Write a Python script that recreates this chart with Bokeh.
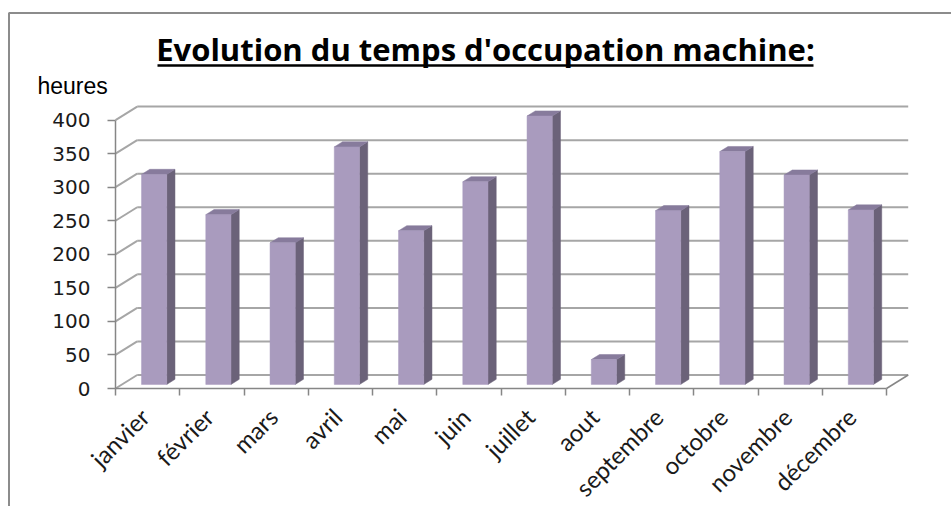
import math
from bokeh.plotting import figure
from bokeh.models import Range1d, FixedTicker, Label, LinearAxis
from bokeh.embed import file_html
from bokeh.resources import INLINE

# ---------------- data ----------------
months = ["janvier", "février", "mars", "avril", "mai", "juin", "juillet",
          "aout", "septembre", "octobre", "novembre", "décembre"]
hours = [313, 253, 211, 354, 229, 302, 400, 37, 259, 347, 312, 260]
y_ticks = [0, 50, 100, 150, 200, 250, 300, 350, 400]
title_text = "Evolution du temps d'occupation machine:"
y_label = "heures"

# ---------------- layout / style ----------------
W, H = 951, 506
X0, Y0 = 115, 388                       # page px of data origin (front-left corner)
SX = 64.25                              # px per category
SY = 0.671                              # px per hour
DX = 21.7 / SX                          # depth offset of back wall (x, data units)
DY = 13.5 / SY                          # depth offset of back wall (y, data units)
ZF, ZB = 0.30, 0.68                     # bar front / back depth fractions
BW = 25.2 / SX                          # bar width
LABEL_SHIFT = -3 / SX

GRID = "#a6a6a6"
AXC = "#868686"
FRONT = "#a99bbe"
SIDE = "#6b6279"
TOP = "#877b9c"


def xd(px):
    return (px - X0) / SX


def yd(py):
    return (Y0 - py) / SY


n = len(months)
p = figure(width=W, height=H, output_backend="svg", toolbar_location=None,
           x_range=Range1d(xd(0), xd(W)), y_range=Range1d(yd(H), yd(0)),
           min_border_left=0, min_border_right=0, min_border_top=0, min_border_bottom=0,
           x_axis_location=None, y_axis_location=None)
p.grid.visible = False
p.outline_line_color = None
p.background_fill_color = "white"
p.border_fill_color = "white"

# outer chart-area border
p.line(x=[xd(W + 5), xd(8.5), xd(8.5)], y=[yd(12.5), yd(12.5), yd(H + 5)],
       line_color="#8c8c8c", line_width=2)

# back wall gridlines and left-wall diagonals
p.segment(x0=[DX] * len(y_ticks), y0=[v + DY for v in y_ticks],
          x1=[n + DX] * len(y_ticks), y1=[v + DY for v in y_ticks],
          line_color=GRID, line_width=2)
p.segment(x0=[0] * len(y_ticks), y0=y_ticks,
          x1=[DX] * len(y_ticks), y1=[v + DY for v in y_ticks],
          line_color=GRID, line_width=2)
# floor right edge
p.segment(x0=[n], y0=[0], x1=[n + DX], y1=[DY], line_color=AXC, line_width=1.5)

# bars
centers = [i + 0.5 for i in range(n)]
x0s = [c - BW / 2 + ZF * DX for c in centers]
x1s = [c + BW / 2 + ZF * DX for c in centers]
dd = ZB - ZF
side_xs = [[a, a + dd * DX, a + dd * DX, a] for a in x1s]
side_ys = [[ZF * DY, ZB * DY, v + ZB * DY, v + ZF * DY] for v in hours]
top_xs = [[a, b, b + dd * DX, a + dd * DX] for a, b in zip(x0s, x1s)]
top_ys = [[v + ZF * DY, v + ZF * DY, v + ZB * DY, v + ZB * DY] for v in hours]
p.patches(xs=side_xs, ys=side_ys, fill_color=SIDE, line_color=SIDE, line_width=0.5)
p.patches(xs=top_xs, ys=top_ys, fill_color=TOP, line_color=TOP, line_width=0.5)
p.quad(left=x0s, right=x1s, bottom=[ZF * DY] * n, top=[v + ZF * DY for v in hours],
       fill_color=FRONT, line_color=FRONT, line_width=0.5)

# axes (placed at the front edges of the 3D box)
yaxis = LinearAxis(ticker=FixedTicker(ticks=y_ticks), bounds=(0, 400), fixed_location=0,
                   axis_line_color=AXC, axis_line_width=1.5,
                   major_tick_line_color=AXC, major_tick_line_width=1.5,
                   major_tick_out=8, major_tick_in=0, minor_tick_line_color=None,
                   major_label_standoff=17,
                   major_label_text_font="DejaVu Sans",
                   major_label_text_font_size="20px",
                   major_label_text_color="#1a1a1a")
p.add_layout(yaxis, "left")

label_pos = [c + LABEL_SHIFT for c in centers]
xaxis = LinearAxis(ticker=FixedTicker(ticks=label_pos, minor_ticks=list(range(n + 1))),
                   bounds=(0, n), fixed_location=0,
                   major_label_overrides={pos: m for pos, m in zip(label_pos, months)},
                   major_label_orientation=math.pi / 4,
                   axis_line_color=AXC, axis_line_width=1.5,
                   major_tick_line_color=None, major_tick_out=0, major_tick_in=0,
                   minor_tick_line_color=AXC, minor_tick_line_width=1.5,
                   minor_tick_out=7, minor_tick_in=0,
                   major_label_standoff=17,
                   major_label_text_font="Lato",
                   major_label_text_font_size="24px",
                   major_label_text_color="#1a1a1a")
p.add_layout(xaxis, "below")

# title, underline, unit label
p.add_layout(Label(x=xd(485), y=yd(48), text=title_text, text_align="center",
                   text_baseline="alphabetic", text_font="Open Sans",
                   text_font_style="bold", text_font_size="31px", text_color="black"))
p.segment(x0=[xd(157)], y0=[yd(65)], x1=[xd(813)], y1=[yd(65)],
          line_color="black", line_width=2.5)
p.add_layout(Label(x=xd(37), y=yd(85), text=y_label, text_align="left",
                   text_baseline="alphabetic", text_font="Liberation Sans",
                   text_font_size="23px", text_color="black"))

open("out.html", "w").write(file_html(p, INLINE))
